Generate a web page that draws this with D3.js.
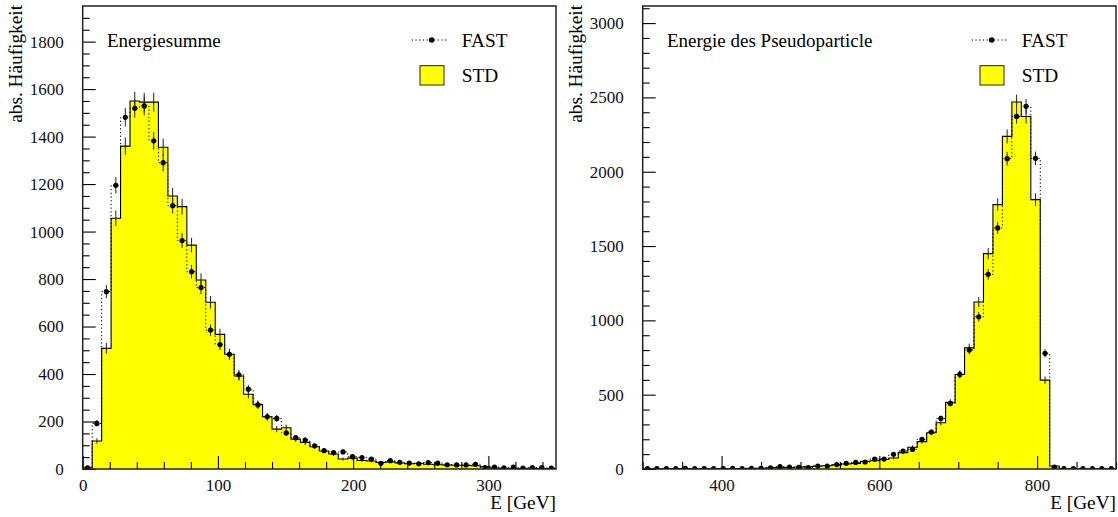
<!DOCTYPE html>
<html>
<head>
<meta charset="utf-8">
<script src="https://cdn.jsdelivr.net/npm/d3@7"></script>
<style>
  body { margin: 0; background: #fff; }
  svg { display: block; font-family: "Liberation Serif", "Times New Roman", serif; }
</style>
</head>
<body>
<svg width="1118" height="517"></svg>
<script>
// Energiesumme, 50 bins of 7 GeV from 0 to 350
let stdSum = [5, 118, 508, 1056, 1360, 1550, 1545, 1545, 1355, 1150,
  1105, 943, 796, 702, 567, 483, 392, 315, 272, 220,
  168, 174, 126, 112, 94, 76, 63, 42, 46, 36,
  34, 28, 30, 25, 22, 24, 20, 18, 17, 16,
  15, 14, 10, 4, 3, 3, 2, 3, 2, 2];
let fastSum = [5, 192, 747, 1195, 1481, 1519, 1529, 1382, 1290, 1109,
  962, 831, 764, 585, 524, 483, 397, 336, 270, 220,
  213, 152, 132, 122, 98, 77, 69, 72, 52, 48,
  42, 24, 35, 28, 25, 22, 27, 25, 18, 17,
  17, 20, 6, 8, 5, 8, 4, 6, 6, 4];

// Energie des Pseudoparticle, 50 bins of 12 GeV from 300 to 900
let stdPseudo = [2, 1, 2, 1, 3, 2, 2, 1, 3, 2,
  3, 4, 5, 8, 9, 10, 13, 16, 20, 22,
  28, 34, 38, 52, 56, 65, 74, 110, 146, 184,
  244, 311, 448, 636, 815, 1124, 1449, 1779, 2238, 2469,
  2372, 1812, 598, 20, 0, 0, 0, 0, 0, 0];
let fastPseudo = [3, 2, 2, 3, 4, 2, 2, 3, 2, 4,
  3, 4, 5, 8, 16, 13, 11, 9, 20, 20,
  30, 38, 44, 47, 67, 67, 99, 121, 132, 199,
  249, 340, 441, 636, 800, 1024, 1310, 1622, 2088, 2372,
  2440, 2090, 778, 12, 3, 2, 3, 2, 3, 3];

let sumXTicks = [0, 100, 200, 300];
let sumYTicks = [0, 200, 400, 600, 800, 1000, 1200, 1400, 1600, 1800];
let pseudoXTicks = [400, 600, 800];
let pseudoYTicks = [0, 500, 1000, 1500, 2000, 2500, 3000];

let panels = [
  { title: "Energiesumme", left: 82.7, right: 556, xMin: 0, xMax: 350, yMax: 1950,
    std: stdSum, fast: fastSum, xTicks: sumXTicks, yTicks: sumYTicks, xMinor: 20, yMinor: 50, titleX: 18 },
  { title: "Energie des Pseudoparticle", left: 642.7, right: 1116, xMin: 300, xMax: 900, yMax: 3115,
    std: stdPseudo, fast: fastPseudo, xTicks: pseudoXTicks, yTicks: pseudoYTicks, xMinor: 50, yMinor: 100, titleX: 578 },
];

let plotTop = 6;
let plotBottom = 469;
let svg = d3.select("svg");

panels.forEach((p, i) => drawPanel(p, i));

function drawPanel(p, idx) {
  let x = d3.scaleLinear().domain([p.xMin, p.xMax]).range([p.left, p.right]);
  let y = d3.scaleLinear().domain([0, p.yMax]).range([plotBottom, plotTop]);
  let n = p.std.length;
  let w = (p.xMax - p.xMin) / n;
  let edge = (k) => x(p.xMin + k * w);
  let mid = (k) => x(p.xMin + (k + 0.5) * w);

  let g = svg.append("g");

  g.append("clipPath")
    .attr("id", `clip${idx}`)
    .append("rect")
    .attr("x", p.left)
    .attr("y", plotTop)
    .attr("width", p.right - p.left)
    .attr("height", plotBottom - plotTop);

  let plot = g.append("g").attr("clip-path", `url(#clip${idx})`);

  // step outline of a histogram
  function steps(vals) {
    let pts = [[edge(0), y(0)]];
    vals.forEach((v, k) => {
      pts.push([edge(k), y(v)]);
      pts.push([edge(k + 1), y(v)]);
    });
    pts.push([edge(n), y(0)]);
    return pts;
  }

  plot.append("path")
    .attr("d", d3.line()(steps(p.std)) + "Z")
    .style("fill", "#ffff00")
    .style("stroke", "none");

  plot.append("path")
    .attr("d", d3.line()(steps(p.std)))
    .style("fill", "none")
    .style("stroke", "#000")
    .style("stroke-width", 1.1);

  // STD error bars
  plot.append("g")
    .selectAll("line")
    .data(p.std)
    .join("line")
    .attr("x1", (d, k) => mid(k))
    .attr("x2", (d, k) => mid(k))
    .attr("y1", (d) => y(d - Math.sqrt(d)))
    .attr("y2", (d) => y(d + Math.sqrt(d)))
    .style("stroke", "#222")
    .style("stroke-width", 1);

  // FAST dotted histogram
  plot.append("path")
    .attr("d", d3.line()(steps(p.fast)))
    .style("fill", "none")
    .style("stroke", "#000")
    .style("stroke-width", 1)
    .style("stroke-dasharray", "1.3,2.4");

  plot.append("g")
    .selectAll("line")
    .data(p.fast)
    .join("line")
    .attr("x1", (d, k) => mid(k))
    .attr("x2", (d, k) => mid(k))
    .attr("y1", (d) => y(d - Math.sqrt(d)))
    .attr("y2", (d) => y(d + Math.sqrt(d)))
    .style("stroke", "#222")
    .style("stroke-width", 1);

  plot.append("g")
    .selectAll("circle")
    .data(p.fast)
    .join("circle")
    .attr("cx", (d, k) => mid(k))
    .attr("cy", (d) => y(d))
    .attr("r", 2.6)
    .style("fill", "#000");

  // minor ticks (inside)
  let xMinor = d3.range(p.xMin, p.xMax + 0.1, p.xMinor).filter((v) => !p.xTicks.includes(v));
  let yMinor = d3.range(0, p.yMax, p.yMinor).filter((v) => !p.yTicks.includes(v));

  g.append("g")
    .attr("transform", `translate(0,${plotBottom})`)
    .call(d3.axisBottom(x).tickValues(xMinor).tickSize(-7).tickFormat(""))
    .call((a) => a.select(".domain").remove());

  g.append("g")
    .attr("transform", `translate(${p.left},0)`)
    .call(d3.axisLeft(y).tickValues(yMinor).tickSize(-7).tickFormat(""))
    .call((a) => a.select(".domain").remove());

  // major ticks with labels
  let xa = g.append("g")
    .attr("transform", `translate(0,${plotBottom})`)
    .call(d3.axisBottom(x).tickValues(p.xTicks).tickSize(-13).tickPadding(10).tickFormat(d3.format("d")));
  xa.select(".domain").remove();

  let ya = g.append("g")
    .attr("transform", `translate(${p.left},0)`)
    .call(d3.axisLeft(y).tickValues(p.yTicks).tickSize(-13).tickPadding(19).tickFormat(d3.format("d")));
  ya.select(".domain").remove();

  g.selectAll(".tick line").style("stroke", "#000").style("stroke-width", 1.1);
  g.selectAll(".tick text")
    .style("font-family", '"Liberation Serif", serif')
    .style("font-size", "17px")
    .style("fill", "#111");

  // frame
  g.append("rect")
    .attr("x", p.left)
    .attr("y", plotTop)
    .attr("width", p.right - p.left)
    .attr("height", plotBottom - plotTop)
    .style("fill", "none")
    .style("stroke", "#222")
    .style("stroke-width", 1.5);

  // texts
  g.append("text")
    .attr("x", p.left + 24.3)
    .attr("y", 46.7)
    .style("font-size", "19px")
    .text(p.title);

  g.append("text")
    .attr("transform", `translate(${p.titleX + 3.5},5) rotate(-90)`)
    .attr("text-anchor", "end")
    .style("font-size", "19.3px")
    .text("abs. Häufigkeit");

  g.append("text")
    .attr("x", p.right)
    .attr("y", 509)
    .attr("text-anchor", "end")
    .style("font-size", "19.3px")
    .text("E [GeV]");

  // legend
  let r = p.right;
  g.append("line")
    .attr("x1", r - 144.3)
    .attr("x2", r - 107.7)
    .attr("y1", 40)
    .attr("y2", 40)
    .style("stroke", "#000")
    .style("stroke-dasharray", "1.3,2.4");
  g.append("circle")
    .attr("cx", r - 124.3)
    .attr("cy", 40)
    .attr("r", 2.8)
    .style("fill", "#000");
  g.append("text")
    .attr("x", r - 94.3)
    .attr("y", 46.7)
    .style("font-size", "19.3px")
    .text("FAST");

  g.append("rect")
    .attr("x", r - 136)
    .attr("y", 65.7)
    .attr("width", 24)
    .attr("height", 19.3)
    .style("fill", "#ffff00")
    .style("stroke", "#222")
    .style("stroke-width", 1);
  g.append("text")
    .attr("x", r - 94.3)
    .attr("y", 81.7)
    .style("font-size", "19.3px")
    .text("STD");
}
</script>
</body>
</html>
